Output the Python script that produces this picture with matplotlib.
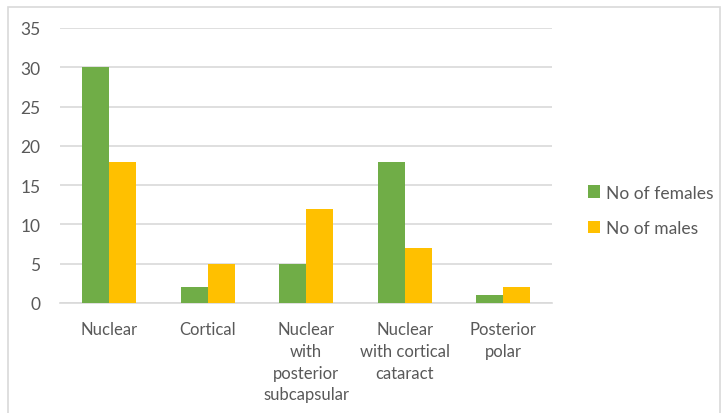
import numpy as np
import matplotlib.pyplot as plt
from matplotlib.patches import Rectangle

categories = ["Nuclear", "Cortical", "Nuclear\nwith\nposterior\nsubcapsular",
              "Nuclear\nwith cortical\ncataract", "Posterior\npolar"]
females = [30, 2, 5, 18, 1]
males = [18, 5, 12, 7, 2]
y_ticks = [0, 5, 10, 15, 20, 25, 30, 35]

green = "#70AD47"
gold = "#FFC000"
grid_col = "#D9D9D9"
text_col = "#595959"

plt.rcParams['font.family'] = ['Lato', 'DejaVu Sans']

fig = plt.figure(figsize=(7.22, 4.14), dpi=100)
ax = fig.add_axes([0.083, 0.266, 0.682, 0.664])

# outer chart frame
fig.patches.append(Rectangle((8 / 722, -0.05), 712 / 722, 1.05 - 8 / 414,
                             transform=fig.transFigure, fill=False,
                             edgecolor=grid_col, linewidth=1.2))

x = np.arange(len(categories))
w = 0.275
ax.bar(x - w / 2, females, w, color=green, label="No of females", zorder=3)
ax.bar(x + w / 2, males, w, color=gold, label="No of males", zorder=3)

ax.set_xlim(-0.5, len(categories) - 0.5)
ax.set_ylim(0, 35)
ax.set_yticks(y_ticks)
ax.yaxis.grid(True, color=grid_col, linewidth=1.2)
ax.set_axisbelow(True)
for s in ["top", "right", "left"]:
    ax.spines[s].set_visible(False)
ax.spines["bottom"].set_color(grid_col)
ax.spines["bottom"].set_linewidth(1.2)

ax.set_xticks(x)
ax.set_xticklabels(categories, color=text_col, fontsize=12, linespacing=1.45,
                   va="top")
ax.tick_params(axis="x", length=0, pad=13)
ax.tick_params(axis="y", length=0, pad=14, labelsize=12.5, labelcolor=text_col)

leg = fig.legend(loc="center left", bbox_to_anchor=(0.793, 0.49),
                 frameon=False, fontsize=12.5, labelcolor=text_col,
                 handlelength=0.7, handleheight=0.7, handletextpad=0.3,
                 labelspacing=1.1)

fig.savefig("out.png", dpi=100)
